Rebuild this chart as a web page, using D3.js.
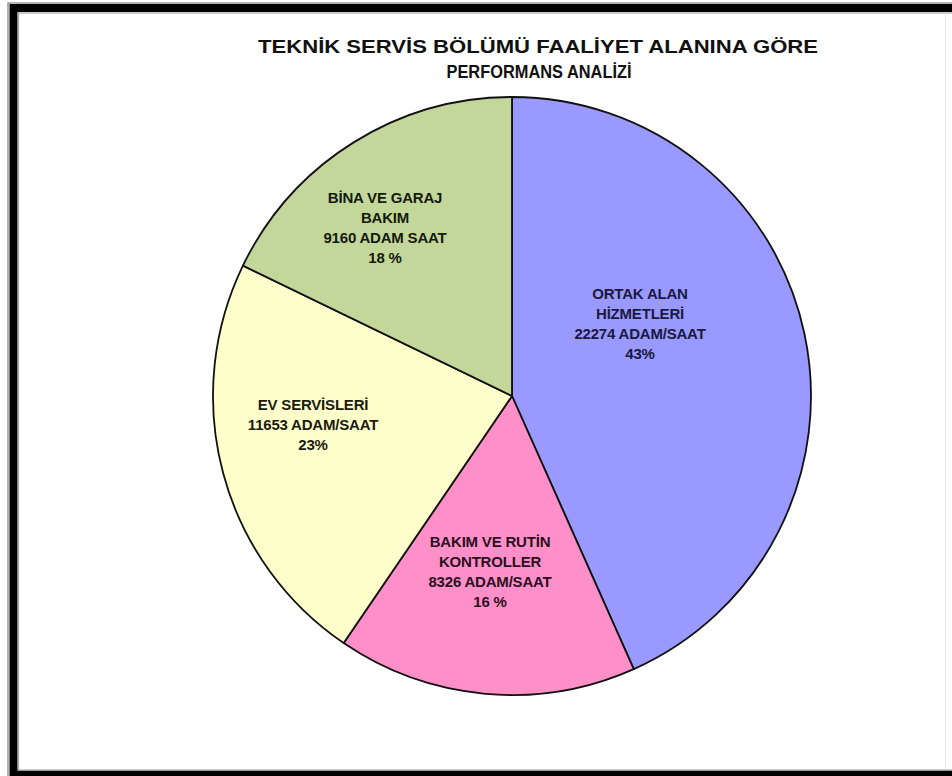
<!DOCTYPE html>
<html><head><meta charset="utf-8">
<script src="https://cdn.jsdelivr.net/npm/d3@7"></script>
<style>html,body{margin:0;padding:0;background:#fff;overflow:hidden}svg{display:block;overflow:hidden}</style>
</head><body>
<svg id="c" width="952" height="776"></svg>
<script>
const titleLines = ["TEKNİK SERVİS  BÖLÜMÜ FAALİYET ALANINA GÖRE", "PERFORMANS ANALİZİ"];
const categories = ["ORTAK ALAN HİZMETLERİ", "BAKIM VE RUTİN KONTROLLER", "EV SERVİSLERİ", "BİNA VE GARAJ BAKIM"];
const values = [22274, 8326, 11653, 9160];
const labelLines = [
  ["ORTAK ALAN", "HİZMETLERİ", "22274 ADAM/SAAT", "43%"],
  ["BAKIM VE RUTİN", "KONTROLLER", "8326 ADAM/SAAT", "16 %"],
  ["EV SERVİSLERİ", "11653 ADAM/SAAT", "23%"],
  ["BİNA VE GARAJ", "BAKIM", "9160 ADAM SAAT", "18 %"]
];
const colors = ["#9999FF", "#FF8FC8", "#FFFFCC", "#C4D79B"];
const textColors = ["#1a1a40", "#2a0f1f", "#1a1a10", "#151a0d"];
// label block offsets relative to pie center (layout only)
const labelOffsets = [[128, -103], [-22, 145], [-199, 8], [-127, -199]];

const svg = d3.select("#c");
// frame
svg.append("rect").attr("x", 0).attr("y", 0).attr("width", 952).attr("height", 776).attr("fill", "#fff");
svg.append("rect").attr("x", 8).attr("y", 3).attr("width", 960).attr("height", 790).attr("fill", "none").attr("stroke", "#999").attr("stroke-width", 1.5);
svg.append("rect").attr("x", 13.5).attr("y", 8).attr("width", 960).attr("height", 766.5).attr("fill", "none").attr("stroke", "#000").attr("stroke-width", 8);
svg.append("rect").attr("x", 18.5).attr("y", 13).attr("width", 960).attr("height", 757).attr("fill", "none").attr("stroke", "#aaa").attr("stroke-width", 1.2);
svg.append("line").attr("x1", 945.5).attr("x2", 945.5).attr("y1", 14).attr("y2", 769).attr("stroke", "#e8e8e8").attr("stroke-width", 1);

// title
const tl = [[538, 46, 560], [539, 71, 185]];
titleLines.forEach((t, i) => {
  svg.append("text").attr("x", tl[i][0]).attr("y", tl[i][1])
    .attr("text-anchor", "middle").attr("dominant-baseline", "central")
    .attr("font-family", "Liberation Sans, Arial, sans-serif").attr("font-weight", "bold")
    .attr("font-size", 18.5).attr("fill", "#111")
    .attr("textLength", tl[i][2]).attr("lengthAdjust", "spacingAndGlyphs")
    .text(t);
});

const cx = 512, cy = 396, r = 299;
const pie = d3.pie().sort(null).value(d => d)(values);
const arc = d3.arc().innerRadius(0).outerRadius(r);
const g = svg.append("g").attr("transform", `translate(${cx},${cy})`);
g.selectAll("path").data(pie).join("path")
  .attr("d", arc)
  .attr("fill", (d, i) => colors[i])
  .attr("stroke", "#111").attr("stroke-width", 1.8).attr("stroke-linejoin", "round");

pie.forEach((d, i) => {
  const [dx, dy] = labelOffsets[i];
  const t = g.append("text").attr("text-anchor", "middle")
    .attr("font-family", "Liberation Sans, Arial, sans-serif").attr("font-weight", "bold")
    .attr("font-size", 15).attr("fill", textColors[i]).attr("letter-spacing", -0.2);
  labelLines[i].forEach((line, j) => {
    t.append("tspan").attr("x", dx).attr("y", dy + j * 20).attr("dominant-baseline", "central").text(line);
  });
});
</script>
</body></html>
